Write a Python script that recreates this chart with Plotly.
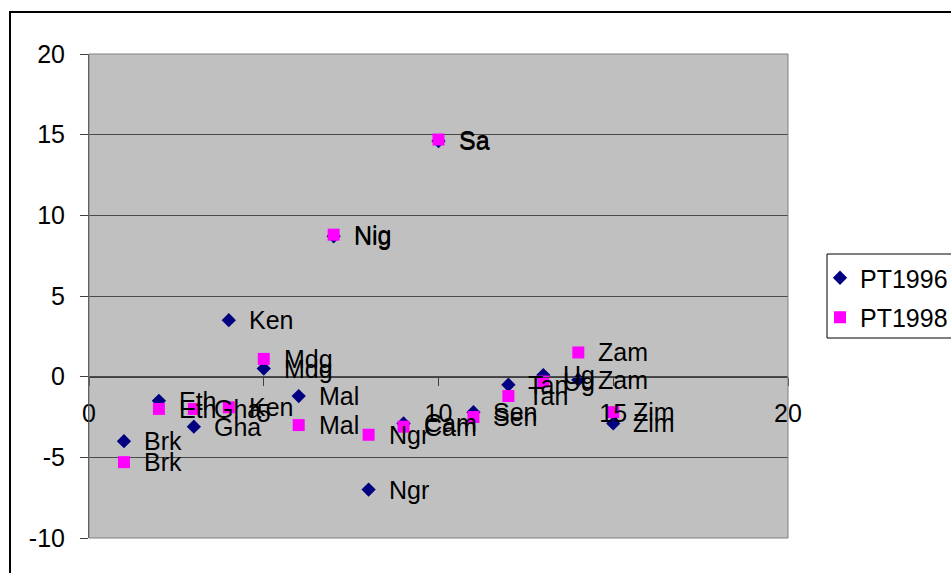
import plotly.graph_objects as go

# Country codes and their positions along the horizontal axis
countries = ["Brk", "Eth", "Gha", "Ken", "Mdg", "Mal", "Nig", "Ngr",
             "Cam", "Sa", "Sen", "Tan", "Ug", "Zam", "Zim"]
x_pos = [1, 2, 3, 4, 5, 6, 7, 8, 9, 10, 11, 12, 13, 14, 15]

# Series values
pt1996 = [-4.0, -1.5, -3.1, 3.5, 0.5, -1.2, 8.7, -7.0,
          -2.9, 14.6, -2.2, -0.5, 0.1, -0.2, -2.9]
pt1998 = [-5.3, -2.0, -2.0, -1.9, 1.1, -3.0, 8.8, -3.6,
          -3.1, 14.7, -2.5, -1.2, -0.3, 1.5, -2.2]

x_ticks = [0, 5, 10, 15, 20]
y_ticks = [-10, -5, 0, 5, 10, 15, 20]

FONT = "Arial, Liberation Sans, sans-serif"
FS = 25
W, H = 951, 573
L, R, T, B = 89, 163, 54, 35
pw, ph = W - L - R, H - T - B


def px_x(p):
    return (p - L) / pw


def px_y(p):
    return (H - B - p) / ph


fig = go.Figure()
fig.add_trace(go.Scatter(
    x=x_pos, y=pt1996, mode="markers", name="PT1996", legendgroup="a",
    marker=dict(symbol="diamond", size=11, color="#000080"),
))
fig.add_trace(go.Scatter(
    x=x_pos, y=pt1998, mode="markers", name="PT1998", legendgroup="b",
    marker=dict(symbol="square", size=12, color="#FF00FF"),
))

annotations = []
for series in (pt1996, pt1998):
    for xv, yv, name in zip(x_pos, series, countries):
        annotations.append(dict(
            x=xv, y=yv, xref="x", yref="y", text=name, showarrow=False,
            xanchor="left", yanchor="middle", xshift=18,
            font=dict(family=FONT, size=FS, color="black"),
        ))

shapes = [
    # plot-area frame
    dict(type="rect", xref="paper", yref="paper", x0=0, x1=1, y0=0, y1=1,
         line=dict(color="#808080", width=1), layer="above"),
    # chart-area frame
    dict(type="rect", xref="paper", yref="paper",
         x0=px_x(10), x1=px_x(1100), y0=px_y(700), y1=px_y(12),
         line=dict(color="black", width=2), layer="above"),
    # legend box
    dict(type="rect", xref="paper", yref="paper",
         x0=px_x(827), x1=px_x(1000), y0=px_y(338), y1=px_y(254),
         line=dict(color="black", width=1), fillcolor="white", layer="above"),
]

fig.update_layout(
    width=W, height=H,
    margin=dict(l=L, r=R, t=T, b=B, pad=0, autoexpand=False),
    paper_bgcolor="white",
    plot_bgcolor="#C0C0C0",
    font=dict(family=FONT, size=FS, color="black"),
    showlegend=True,
    legend=dict(
        x=px_x(820), y=px_y(255), xanchor="left", yanchor="top",
        bgcolor="rgba(0,0,0,0)", borderwidth=0,
        font=dict(family=FONT, size=FS, color="black"),
        tracegroupgap=4, traceorder="grouped", itemwidth=30,
    ),
    xaxis=dict(
        range=[0, 20], tickvals=x_ticks, ticktext=[str(v) for v in x_ticks],
        showgrid=False, zeroline=False,
        showline=True, linecolor="#404040", linewidth=1,
        ticks="outside", ticklen=8, tickcolor="#404040",
        anchor="free", position=1 / 3, ticklabelstandoff=6,
        tickfont=dict(family=FONT, size=FS, color="black"),
    ),
    yaxis=dict(
        range=[-10, 20], tickvals=y_ticks, ticktext=[str(v) for v in y_ticks],
        showgrid=True, gridcolor="#4a4a4a", gridwidth=1, zeroline=False,
        showline=True, linecolor="#404040", linewidth=1,
        ticks="outside", ticklen=8, tickcolor="#404040",
        ticklabelstandoff=10,
        tickfont=dict(family=FONT, size=FS, color="black"),
    ),
    annotations=annotations,
    shapes=shapes,
)

fig.write_html("out.html")
